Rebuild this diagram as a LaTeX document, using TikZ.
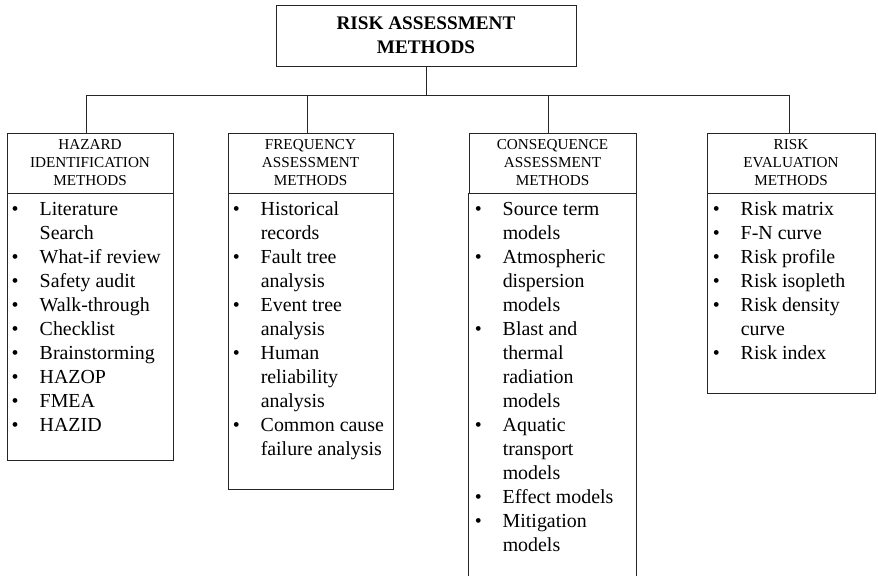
\documentclass[tikz,border=0pt]{standalone}
\usepackage{fontspec}
\setmainfont{Liberation Serif}
\usepackage{array}
\begin{document}
\begin{tikzpicture}[x=1pt,y=-1pt,
  line/.style={draw=black!85, line width=0.9pt},
  titlebox/.style={line, rectangle, minimum width=300pt, minimum height=61pt, inner sep=0pt, align=center, font=\bfseries\fontsize{19.2}{24}\selectfont},
  headbox/.style={line, rectangle, minimum height=60pt, inner sep=0pt, align=center, font=\fontsize{15.2}{18}\selectfont},
  bodybox/.style={line, rectangle, anchor=north, inner sep=0pt},
  listtext/.style={anchor=north west, inner sep=0pt, font=\fontsize{19.9}{24}\selectfont},
]
\useasboundingbox (0,0) rectangle (878,576);
\node[titlebox] (top) at (426,35.5) {RISK ASSESSMENT\\METHODS};
\node[headbox, minimum width=166pt] (h1) at (90,163) {HAZARD\\IDENTIFICATION\\METHODS};
\node[headbox, minimum width=165pt] (h2) at (310.5,163) {FREQUENCY\\ASSESSMENT\\METHODS};
\node[headbox, minimum width=167pt] (h3) at (552.5,163) {CONSEQUENCE\\ASSESSMENT\\METHODS};
\node[headbox, minimum width=168pt] (h4) at (791,163) {RISK\\EVALUATION\\METHODS};

\node[bodybox, minimum width=166pt, minimum height=267pt] (b1) at (h1.south) {};
\node[bodybox, minimum width=165pt, minimum height=296pt] (b2) at (h2.south) {};
\node[bodybox, minimum width=168pt, minimum height=200pt] (b4) at (h4.south) {};
\draw[line] (h3.south west) -- ++(0,383);
\draw[line] (h3.south east) -- ++(0,383);

\node[listtext] (t1) at ([shift={(5,5)}]b1.north west) {%
\begin{tabular}{@{}p{28pt}@{}l@{}}
\textbullet & Literature\\
 & Search\\
\textbullet & What-if review\\
\textbullet & Safety audit\\
\textbullet & Walk-through\\
\textbullet & Checklist\\
\textbullet & Brainstorming\\
\textbullet & HAZOP\\
\textbullet & FMEA\\
\textbullet & HAZID
\end{tabular}};
\node[listtext] (t2) at ([shift={(5,5)}]b2.north west) {%
\begin{tabular}{@{}p{28pt}@{}l@{}}
\textbullet & Historical\\
 & records\\
\textbullet & Fault tree\\
 & analysis\\
\textbullet & Event tree\\
 & analysis\\
\textbullet & Human\\
 & reliability\\
 & analysis\\
\textbullet & Common cause\\
 & failure analysis
\end{tabular}};
\node[listtext] (t3) at ([shift={(6,5)}]h3.south west) {%
\begin{tabular}{@{}p{28pt}@{}l@{}}
\textbullet & Source term\\
 & models\\
\textbullet & Atmospheric\\
 & dispersion\\
 & models\\
\textbullet & Blast and\\
 & thermal\\
 & radiation\\
 & models\\
\textbullet & Aquatic\\
 & transport\\
 & models\\
\textbullet & Effect models\\
\textbullet & Mitigation\\
 & models
\end{tabular}};
\node[listtext] (t4) at ([shift={(6,5)}]b4.north west) {%
\begin{tabular}{@{}p{28pt}@{}l@{}}
\textbullet & Risk matrix\\
\textbullet & F-N curve\\
\textbullet & Risk profile\\
\textbullet & Risk isopleth\\
\textbullet & Risk density\\
 & curve\\
\textbullet & Risk index
\end{tabular}};

\coordinate (bus) at (0,95);
\draw[line] (top.south) -- (top.south |- bus);
\draw[line] ([xshift=-3.5pt]h1.north) |- ([xshift=-2pt]h4.north |- bus) -- ([xshift=-2pt]h4.north);
\draw[line] ([xshift=-3.5pt]h2.north) -- ([xshift=-3.5pt]h2.north |- bus);
\draw[line] ([xshift=-4.5pt]h3.north) -- ([xshift=-4.5pt]h3.north |- bus);
\end{tikzpicture}
\end{document}
